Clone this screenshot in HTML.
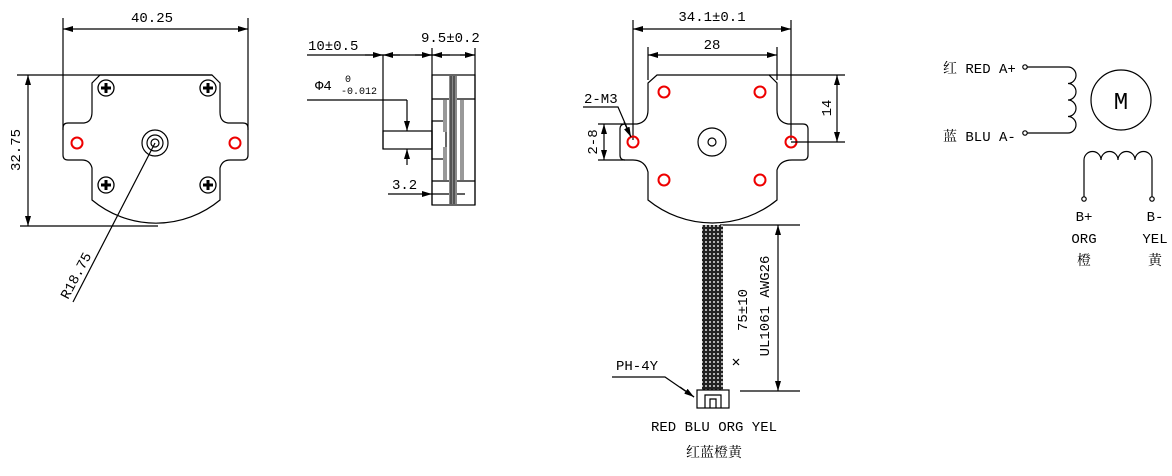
<!DOCTYPE html>
<html><head><meta charset="utf-8"><style>
body{margin:0;background:#fff}
svg text{font-family:"Liberation Mono","Noto Serif CJK SC",monospace;fill:#000}
</style></head><body>
<svg width="1172" height="471" viewBox="0 0 1172 471" xmlns="http://www.w3.org/2000/svg">
<defs>
<marker id="a" viewBox="0 0 10 6" refX="10" refY="3" markerWidth="10" markerHeight="6" orient="auto-start-reverse" markerUnits="userSpaceOnUse"><path d="M0,0 L10,3 L0,6 z" fill="#000"/></marker>
<pattern id="mesh" width="4" height="4" patternUnits="userSpaceOnUse"><rect width="4" height="4" fill="#222"/><circle cx="2" cy="2" r="1" fill="#ddd"/></pattern>
</defs>
<g fill="none" stroke="#000" stroke-width="1.2">
<line x1="63" y1="18" x2="63" y2="130"/><line x1="248" y1="18" x2="248" y2="130"/>
<line x1="63" y1="29" x2="248" y2="29" marker-start="url(#a)" marker-end="url(#a)"/>
<line x1="17" y1="75" x2="212" y2="75"/><line x1="20" y1="226" x2="158" y2="226"/>
<line x1="28" y1="75" x2="28" y2="226" marker-start="url(#a)" marker-end="url(#a)"/>
<path d="M100,75 L212,75 L220,83 L220,112 Q220,122 228,123 L243,123 Q248,123 248,128 L248,155 Q248,160 243,160 L230,160 Q222,160 220,168 L220,200 A100,100 0 0 1 92,200 L92,168 Q90,160 82,160 L68,160 Q63,160 63,155 L63,128 Q63,123 68,123 L84,123 Q92,122 92,112 L92,83 Z"/>
<g stroke-width="1.3">
<circle cx="106" cy="88" r="8"/><circle cx="208" cy="88" r="8"/><circle cx="106" cy="185" r="8"/><circle cx="208" cy="185" r="8"/>
</g>
<g stroke-width="3">
<path d="M101,88h10M106,83v10M203,88h10M208,83v10M101,185h10M106,180v10M203,185h10M208,180v10"/>
</g>
<circle cx="77" cy="143" r="5.5" stroke="#e00" stroke-width="2"/><circle cx="235" cy="143" r="5.5" stroke="#e00" stroke-width="2"/>
<circle cx="155" cy="143" r="13"/><circle cx="155" cy="143" r="8"/><circle cx="155" cy="143" r="4"/>
<line x1="155" y1="143" x2="73" y2="302"/>
<line x1="307" y1="55" x2="475" y2="55"/>
<path d="M365,55 L383,55" marker-end="url(#a)"/><path d="M400,55 L383,55" marker-end="url(#a)"/>
<path d="M415,55 L432,55" marker-end="url(#a)"/><path d="M450,55 L432,55" marker-end="url(#a)"/>
<path d="M460,55 L475,55" marker-end="url(#a)"/>
<line x1="383" y1="55" x2="383" y2="149"/>
<line x1="432" y1="48" x2="432" y2="205"/><line x1="475" y1="48" x2="475" y2="205"/>
<rect x="432" y="75" width="43" height="130"/>
<line x1="432" y1="99" x2="475" y2="99"/><line x1="432" y1="181" x2="475" y2="181"/>
<rect x="383" y="131" width="49" height="18"/>
<rect x="432" y="121" width="14" height="38"/>
<line x1="307" y1="100" x2="407" y2="100"/><line x1="407" y1="100" x2="407" y2="131" marker-end="url(#a)"/>
<line x1="407" y1="165" x2="407" y2="149" marker-end="url(#a)"/>
<line x1="388" y1="194" x2="432" y2="194" marker-end="url(#a)"/><line x1="432" y1="194" x2="465" y2="194"/>
</g>
<rect x="449" y="76" width="8" height="128" fill="#888"/>
<rect x="443" y="100" width="4" height="32" fill="#999"/><rect x="443" y="147" width="4" height="33" fill="#999"/>
<rect x="460" y="100" width="4" height="80" fill="#999"/>
<g stroke="#000" stroke-width="0.8"><line x1="451" y1="76" x2="451" y2="204"/><line x1="454" y1="76" x2="454" y2="204"/></g>
<g fill="none" stroke="#000" stroke-width="1.2">
<line x1="633" y1="20" x2="633" y2="140"/><line x1="791" y1="20" x2="791" y2="140"/>
<line x1="633" y1="29" x2="791" y2="29" marker-start="url(#a)" marker-end="url(#a)"/>
<line x1="648" y1="47" x2="648" y2="80"/><line x1="777" y1="47" x2="777" y2="80"/>
<line x1="648" y1="55" x2="777" y2="55" marker-start="url(#a)" marker-end="url(#a)"/>
<path d="M657,75 L769,75 L777,83 L777,110 Q777,122 788,124 L803,124 Q808,124 808,129 L808,155 Q808,160 803,160 L792,160 Q780,160 777,170 L777,200 A102,102 0 0 1 648,200 L648,172 Q645,160 633,160 L625,160 Q620,160 620,155 L620,129 Q620,124 625,124 L637,124 Q648,122 648,110 L648,83 Z"/>
<g stroke="#e00" stroke-width="2">
<circle cx="664" cy="92" r="5.5"/><circle cx="760" cy="92" r="5.5"/><circle cx="664" cy="180" r="5.5"/><circle cx="760" cy="180" r="5.5"/><circle cx="633" cy="142" r="5.5"/><circle cx="791" cy="142" r="5.5"/>
</g>
<circle cx="712" cy="142" r="14"/><circle cx="712" cy="142" r="4"/>
<line x1="769" y1="75" x2="845" y2="75"/><line x1="791" y1="142" x2="845" y2="142"/>
<line x1="837" y1="75" x2="837" y2="142" marker-start="url(#a)" marker-end="url(#a)"/>
<line x1="598" y1="124" x2="625" y2="124"/><line x1="598" y1="160" x2="625" y2="160"/>
<line x1="604" y1="124" x2="604" y2="160" marker-start="url(#a)" marker-end="url(#a)"/>
<path d="M583,107 L618,107 L631,137" /><line x1="624" y1="122" x2="631" y2="137" marker-end="url(#a)"/>
<line x1="720" y1="225" x2="800" y2="225"/><line x1="740" y1="391" x2="800" y2="391"/>
<line x1="778" y1="225" x2="778" y2="391" marker-start="url(#a)" marker-end="url(#a)"/>
<path d="M612,377 L665,377 L694,397" /><line x1="680" y1="387" x2="694" y2="397" marker-end="url(#a)"/>
</g>
<rect x="702" y="225" width="21" height="165" fill="url(#mesh)"/>
<g fill="none" stroke="#000" stroke-width="1.2">
<rect x="697" y="390" width="32" height="18"/><path d="M705,408 V395 H721 V408"/><path d="M710,408 V399 H716 V408"/>
<line x1="733" y1="359" x2="739" y2="365"/><line x1="739" y1="359" x2="733" y2="365"/>
<path d="M1027,67 H1068 a8,8.25 0 0 1 0,16.5 a8,8.25 0 0 1 0,16.5 a8,8.25 0 0 1 0,16.5 a8,8.25 0 0 1 0,16.5 H1027"/>
<circle cx="1025" cy="67" r="2.2"/><circle cx="1025" cy="133" r="2.2"/>
<circle cx="1121" cy="100" r="30"/>
<path d="M1084,197 V160 a8.5,8.5 0 0 1 17,0 a8.5,8.5 0 0 1 17,0 a8.5,8.5 0 0 1 17,0 a8.5,8.5 0 0 1 17,0 V197"/>
<circle cx="1084" cy="199" r="2.2"/><circle cx="1152" cy="199" r="2.2"/>
</g>
<g font-size="14">
<text x="152" y="22" text-anchor="middle">40.25</text>
<text transform="translate(20,150) rotate(-90)" text-anchor="middle">32.75</text>
<text transform="translate(68,300) rotate(-62)">R18.75</text>
<text x="308" y="50">10±0.5</text>
<text x="421" y="42">9.5±0.2</text>
<text x="315" y="90">Φ4</text>
<text x="345" y="82" font-size="10">0</text>
<text x="341" y="94" font-size="10">-0.012</text>
<text x="392" y="189">3.2</text>
<text x="712" y="21" text-anchor="middle">34.1±0.1</text>
<text x="712" y="49" text-anchor="middle">28</text>
<text transform="translate(831,108) rotate(-90)" text-anchor="middle">14</text>
<text transform="translate(597,142) rotate(-90)" text-anchor="middle">2-8</text>
<text x="584" y="103">2-M3</text>
<text transform="translate(747,310) rotate(-90)" text-anchor="middle">75±10</text>
<text transform="translate(769,306) rotate(-90)" text-anchor="middle">UL1061 AWG26</text>
<text x="616" y="370">PH-4Y</text>
<text x="714" y="431" text-anchor="middle">RED BLU ORG YEL</text>
<text x="714" y="457" text-anchor="middle">红蓝橙黄</text>
<text x="943" y="73">红 RED A+</text>
<text x="943" y="141">蓝 BLU A-</text>
<text x="1121" y="109" text-anchor="middle" font-family="Liberation Sans,sans-serif" font-size="24">M</text>
<text x="1084" y="221" text-anchor="middle">B+</text>
<text x="1084" y="243" text-anchor="middle">ORG</text>
<text x="1084" y="265" text-anchor="middle">橙</text>
<text x="1155" y="221" text-anchor="middle">B-</text>
<text x="1155" y="243" text-anchor="middle">YEL</text>
<text x="1155" y="265" text-anchor="middle">黄</text>
</g>
</svg>
</body></html>
